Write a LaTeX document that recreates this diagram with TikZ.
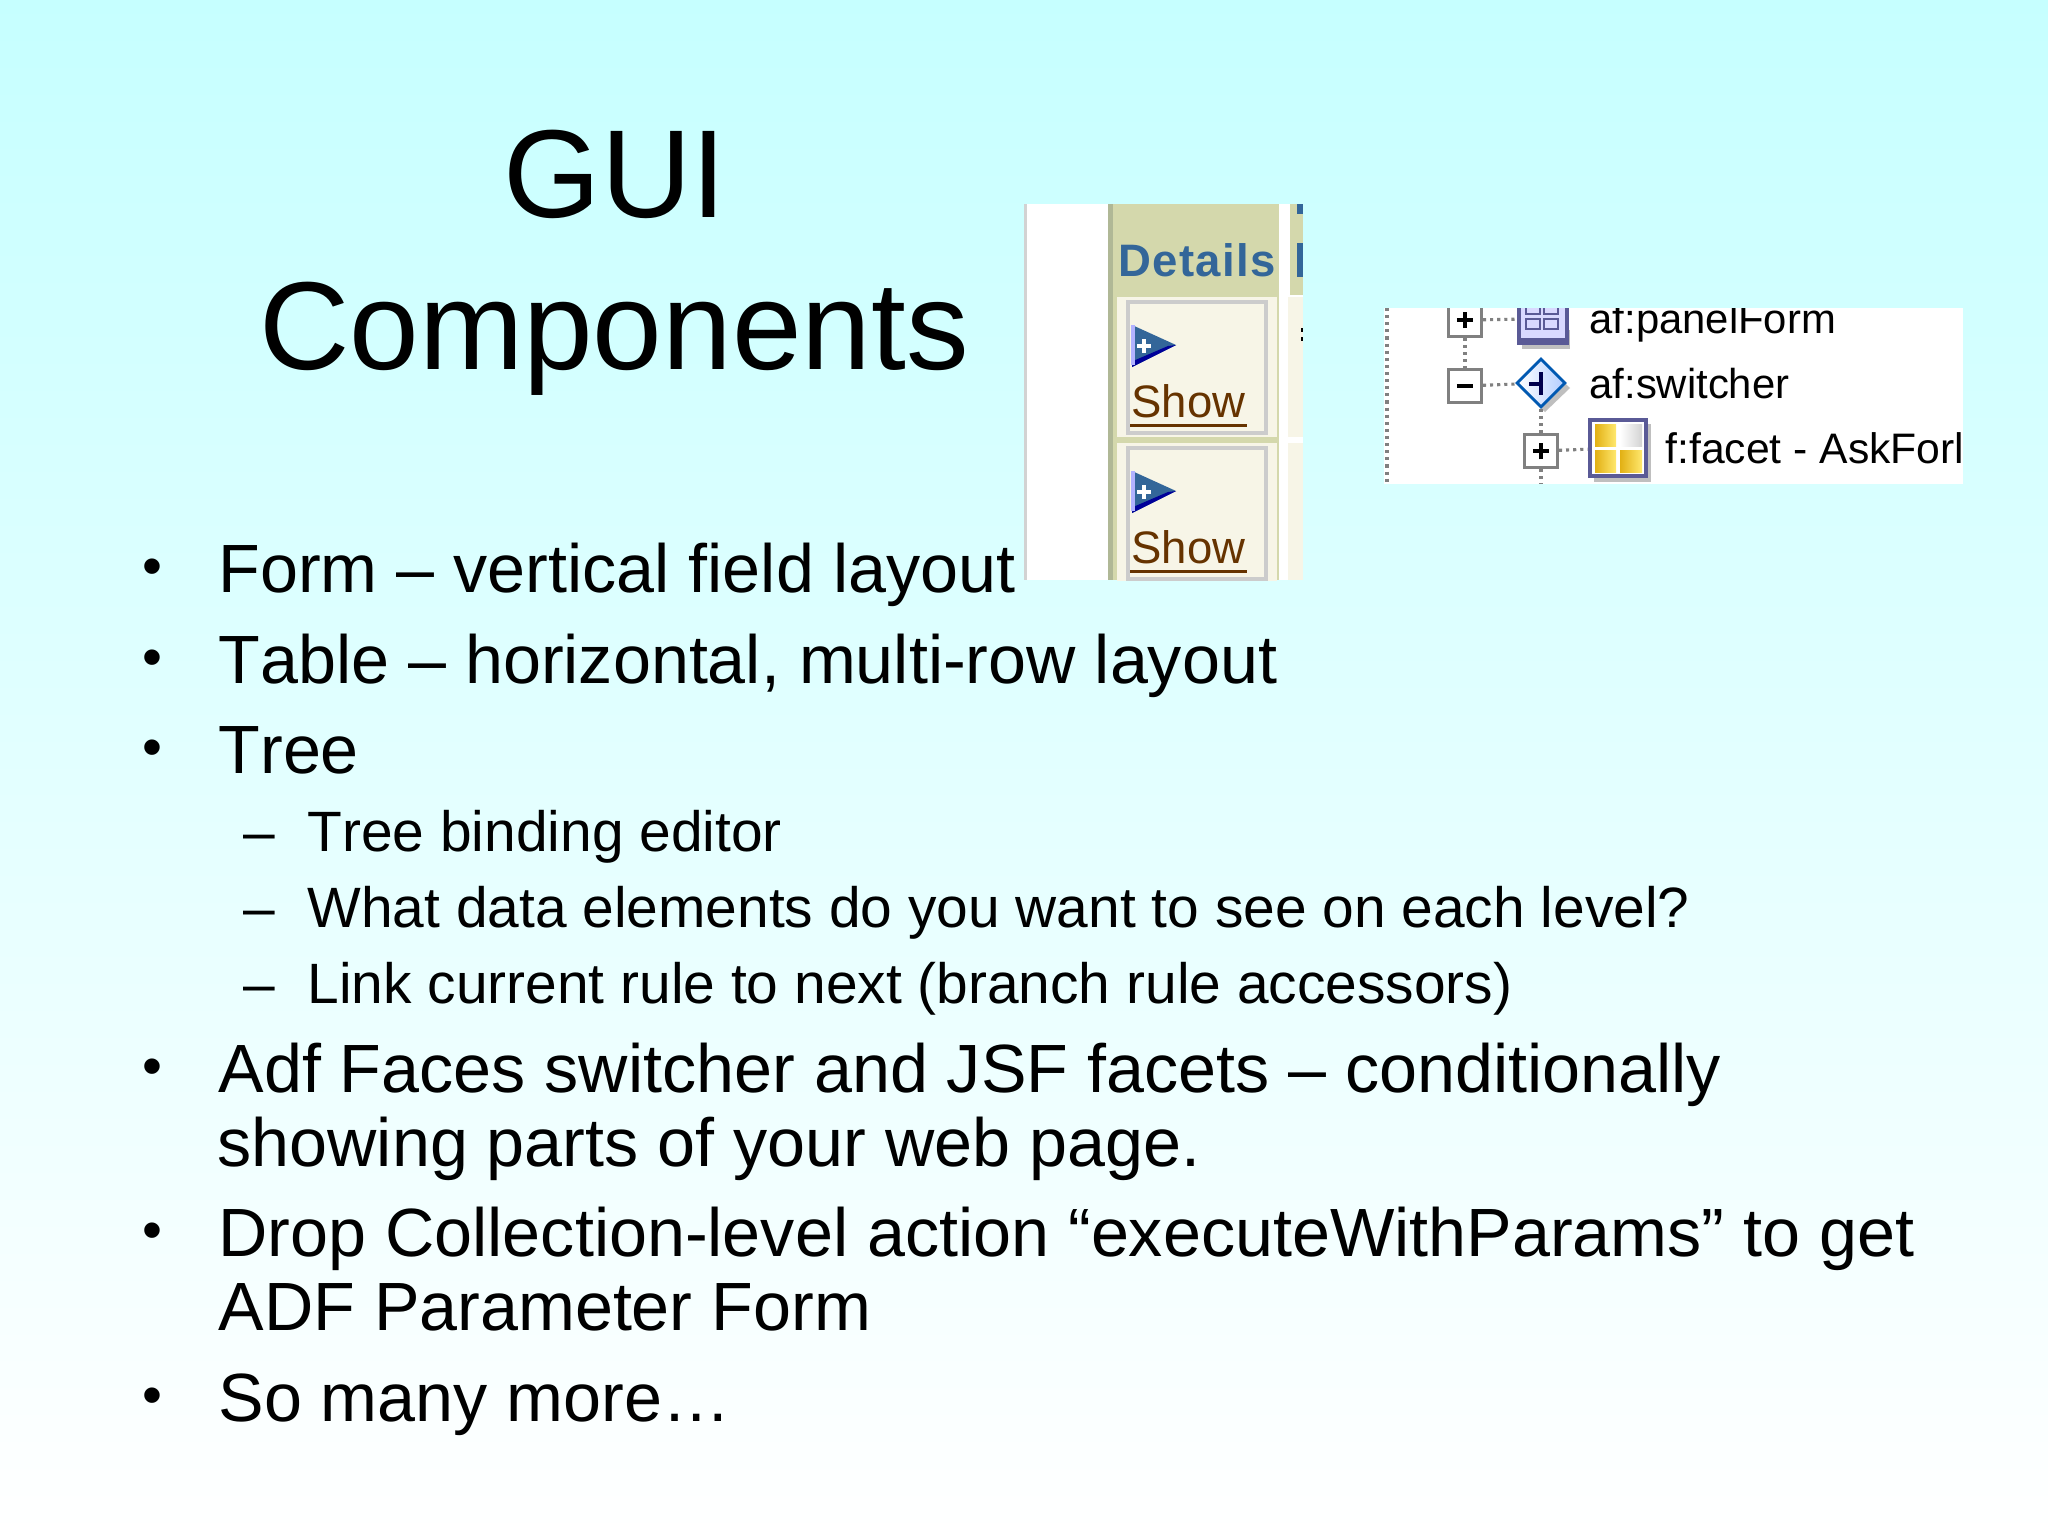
\documentclass[tikz,border=0pt]{standalone}
\usepackage{fontspec}
\setmainfont[Kerning=Off]{Liberation Sans}
\newfontfamily\detailfont[LetterSpace=3]{Liberation Sans}
\usetikzlibrary{shapes.geometric}
\usetikzlibrary{positioning}

\definecolor{slidetop}{RGB}{198,255,255}
\definecolor{headolive}{RGB}{212,216,172}
\definecolor{edgeolive}{RGB}{176,184,150}
\definecolor{cellbeige}{RGB}{247,245,231}
\definecolor{linkbrown}{RGB}{102,51,0}
\definecolor{headblue}{RGB}{51,102,153}
\definecolor{iconframe}{RGB}{90,90,150}
\definecolor{golddark}{RGB}{226,176,20}
\definecolor{goldlight}{RGB}{255,232,110}

\tikzset{
  titletext/.style={anchor=base,inner sep=0pt,font=\fontsize{44bp}{53.4bp}\selectfont,align=center},
  bullettext/.style={anchor=base west,inner sep=0pt,font=\fontsize{24bp}{25.8bp}\selectfont,align=left},
  bulletmark/.style={anchor=base west,inner sep=0pt,font=\fontsize{20bp}{24bp}\selectfont},
  subtext/.style={anchor=base west,inner sep=0pt,font=\fontsize{20bp}{24bp}\selectfont},
  showtext/.style={anchor=base west,inner sep=0pt,text=linkbrown,font=\fontsize{16bp}{18bp}\selectfont},
  treetext/.style={anchor=base west,inner sep=0pt,font=\fontsize{14.7bp}{16bp}\selectfont},
  treebox/.style={draw=gray,fill=white,line width=1.1bp,minimum size=11.5bp,inner sep=0pt},
  treedots/.style={gray,line width=1.1bp,dash pattern=on 1.1bp off 1.4bp},
  treemark/.style={black,line width=1.1bp},
}

\begin{document}
\begin{tikzpicture}[x=0.35156bp,y=-0.35156bp]
  \useasboundingbox (0,0) rectangle (2048,1536);
  \shade[top color=slidetop,bottom color=white] (0,0) rectangle (2048,1536);

  % title
  \node[titletext] (title) at (615,218) {GUI};
  \node[titletext] (titleb) at (614,369) {Components};

  % first level
  \foreach \nm/\ypos in {fb/585,tb/676,trb/766,ab/1085,db/1249,sb/1414}
    \node[bulletmark] (\nm) at (142,\ypos) {•};
  \node[bullettext] (form) at (218,592) {Form – vertical field layout};
  \node[bullettext] (table) at (218,683) {Table – horizontal, multi-row layout};
  \node[bullettext] (tree) at (218,773) {Tree};
  \node[bullettext] (adf) at (218,1092) {Adf Faces switcher and JSF facets – conditionally};
  \node[bullettext] (adfb) at (217,1166) {showing parts of your web page.};
  \node[bullettext] (drop) at (218,1256) {Drop Collection-level action “executeWithParams” to get};
  \node[bullettext] (dropb) at (218,1330) {ADF Parameter Form};
  \node[bullettext] (more) at (218,1421) {So many more…};

  % second level
  \foreach \nm/\ypos in {da/851,dg/927,dc/1003}
    \node[subtext] (\nm) at (243,\ypos) {–};
  \node[subtext] (binding) at (307,851) {Tree binding editor};
  \node[subtext] (elements) at (307,927) {What data elements do you want to see on each level?};
  \node[subtext] (rule) at (307,1003) {Link current rule to next (branch rule accessors)};

  % screenshot, table column
  \fill[white] (1024,204) rectangle (1303,580);
  \fill[gray!35] (1024,204) rectangle (1027,580);
  \fill[edgeolive] (1108,204) rectangle (1113,580);
  \fill[headolive] (1113,204) rectangle (1279,580);
  \fill[headolive] (1290,204) rectangle (1303,295);
  \fill[cellbeige] (1288,297) rectangle (1303,437);
  \fill[cellbeige] (1288,443) rectangle (1303,580);
  \fill[headblue] (1297,204) rectangle (1303,214);
  \fill[headblue] (1297,243) rectangle (1303,277);
  \fill[black] (1301,328) rectangle (1303,332);
  \fill[black] (1301,337) rectangle (1303,341);
  \node[anchor=base west,inner sep=0pt,text=headblue,font=\detailfont\bfseries\fontsize{16bp}{18bp}\selectfont] (details) at (1118,277) {Details};
  \begin{scope}
    \clip (1024,204) rectangle (1303,580);
    \foreach \nm/\dy in {a/0,b/146} {
      \fill[cellbeige] (1117,297+\dy) rectangle (1277,437+\dy);
      \draw[gray!40,line width=1.1bp] (1128,302+\dy) rectangle (1266,433+\dy);
      \fill[headblue] (1132,325+\dy) -- (1176,345+\dy) -- (1132,367+\dy) -- cycle;
      \fill[blue!60!black] (1176,345+\dy) -- (1132,367+\dy) -- (1133,361+\dy) -- (1168,346+\dy) -- cycle;
      \fill[blue!30!white] (1131,325+\dy) rectangle (1135,365+\dy);
      \draw[white,line width=1.1bp] (1137,346+\dy) -- (1151,346+\dy) (1144,339+\dy) -- (1144,353+\dy);
      \node[showtext] (show\nm) at (1131,417+\dy) {Show};
      \fill[linkbrown] (1130,424+\dy) rectangle (1247,427+\dy);
    }
  \end{scope}

  % screenshot, tree
  \begin{scope}
    \clip (1384,308) rectangle (1963,484);
    \fill[white] (1384,308) rectangle (1963,484);
    \coordinate (railtop) at (1387,308);
    \coordinate (railend) at (1387,484);
    \coordinate (facetend) at (1541,484);
    \node[treebox] (boxa) at (1465,320) {};
    \node[treebox] (boxb) at (1465,386) {};
    \node[treebox] (boxc) at (1541,451) {};
    \fill[gray!50] (1522,330) rectangle (1570,349);
    \node[draw=iconframe,fill=blue!15,line width=1.4bp,minimum width=17bp,minimum height=17bp,inner sep=0pt,anchor=south west] (pform) at (1517,345) {};
    \fill[iconframe] (1517,338) rectangle (1566,345);
    \draw[iconframe,line width=0.9bp] (1526,300) rectangle (1540,314) (1544,300) rectangle (1558,314) (1526,319) rectangle (1540,329) (1544,319) rectangle (1558,329);
    \fill[gray!50] (1545,364) -- (1570,388) -- (1545,412) -- (1520,388) -- cycle;
    \node[diamond,draw=blue!50!cyan!70!black,left color=white,right color=cyan!35!blue!30,line width=1bp,minimum width=17.2bp,minimum height=17.2bp,inner sep=0pt] (swit) at (1541,383) {};
    \draw[blue!30!black,line width=1.2bp] (1541,372) -- (1541,395) (1529,384) -- (1541,384);
    \fill[gray!50] (1594,424) rectangle (1651,482);
    \node[draw=iconframe,fill=white,line width=1.4bp,minimum width=20bp,minimum height=20bp,inner sep=0pt] (fct) at (1618,448) {};
    \shade[left color=golddark,right color=goldlight] (1595,424) rectangle (1616,446);
    \shade[left color=white,right color=gray!35] (1620,424) rectangle (1642,446);
    \shade[left color=golddark,right color=goldlight] (1595,450) rectangle (1616,472);
    \shade[left color=golddark,right color=goldlight] (1620,450) rectangle (1642,472);
    \draw[treedots] (railtop) -- (railend);
    \draw[treedots] (boxa) -- (pform);
    \draw[treedots] (boxa) -- (boxb);
    \draw[treedots] (boxb) -- (swit);
    \draw[treedots] (swit) -- (boxc);
    \draw[treedots] (boxc) -- (fct);
    \draw[treedots] (boxc) -- (facetend);
    \foreach \b in {boxa,boxb,boxc}
      \draw[treemark] ([xshift=-2.9bp]\b.center) -- ([xshift=2.9bp]\b.center);
    \foreach \b in {boxa,boxc}
      \draw[treemark] ([yshift=-2.9bp]\b.center) -- ([yshift=2.9bp]\b.center);
    \node[treetext] (tpform) at (1589,333) {af:panelForm};
    \node[treetext] (tswit) at (1589,398) {af:switcher};
    \node[treetext,font=\fontsize{15bp}{16bp}\selectfont] (tfct) at (1665,463) {f:facet - AskForl};
  \end{scope}
\end{tikzpicture}
\end{document}
